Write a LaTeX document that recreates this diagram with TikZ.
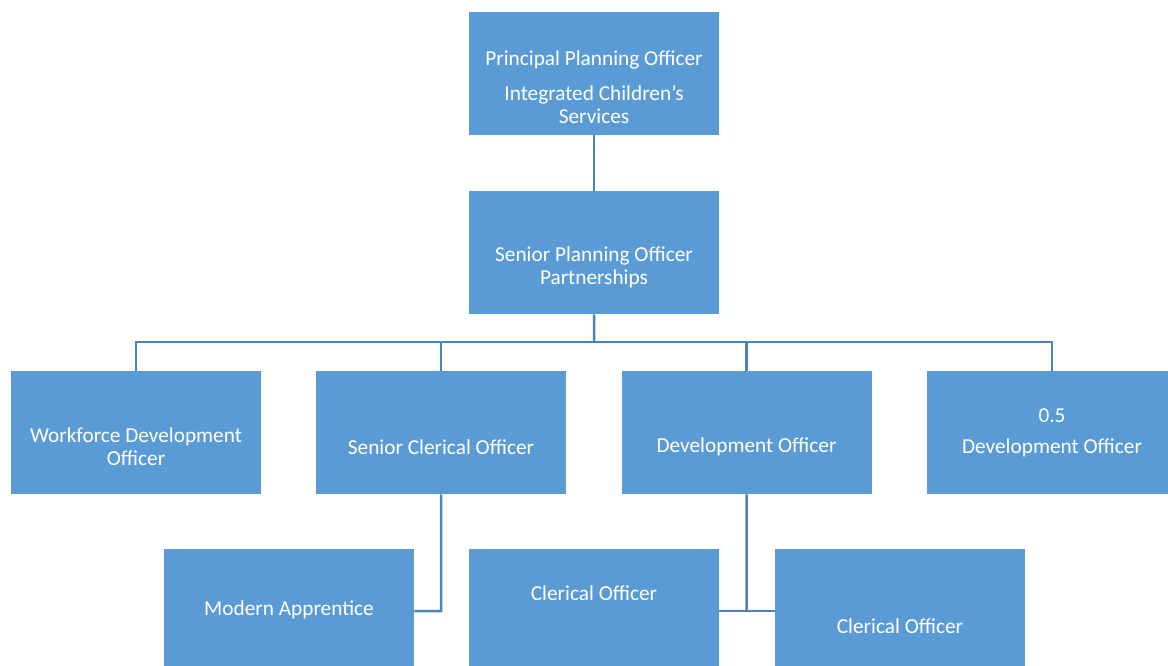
\documentclass[tikz,border=0pt]{standalone}
\usepackage{fontspec}
\setmainfont{Carlito}
\definecolor{boxblue}{HTML}{5B9BD5}
\definecolor{lineblue}{HTML}{4A83BD}
\begin{document}
\begin{tikzpicture}[x=1pt,y=-1pt,
  box/.style={fill=boxblue,draw=none,minimum width=250pt,minimum height=123pt,inner sep=0pt,anchor=north west},
  txt/.style={text=white,font=\fontsize{21.3}{23}\selectfont,align=center,inner sep=0pt},
  conn/.style={draw=lineblue,line width=2.5pt}]
\useasboundingbox (0,0) rectangle (1168,666);
\clip (0,0) rectangle (1168,666);
% boxes
\node[box] (top) at (469,12) {};
\node[box] (spo) at (469,191) {};
\node[box] (wdo) at (11,371) {};
\node[box] (sco) at (316,371) {};
\node[box] (dev) at (621.5,371) {};
\node[box] (half) at (927,371) {};
\node[box] (ma) at (164,549) {};
\node[box] (co1) at (469,549) {};
\node[box] (co2) at (775,549) {};
% texts
\node[txt] (ttop1) at (594,60) {Principal Planning Officer};
\node[txt] (ttop2) at (594,104.5) {Integrated Children’s\\Services};
\node[txt] (tspo) at (594,267.5) {Senior Planning Officer\\Partnerships};
\node[txt] (twdo) at (136,446.5) {Workforce Development\\Officer};
\node[txt] (tsco) at (441,447) {Senior Clerical Officer};
\node[txt] (tdev) at (746.5,447) {Development Officer};
\node[txt] (thalf1) at (1052,416) {0.5};
\node[txt] (thalf2) at (1052,448) {Development Officer};
\node[txt] (tma) at (289,610) {Modern Apprentice};
\node[txt] (tco1) at (594,593) {Clerical Officer};
\node[txt] (tco2) at (900,626) {Clerical Officer};
% connectors
\coordinate (bus) at (594,342);
\draw[conn] (top.south) -- (spo.north);
\draw[conn] (spo.south) -- (bus);
\draw[conn] (wdo.north) |- (bus) -| (half.north);
\draw[conn] (sco.north) -- (sco.north |- bus);
\draw[conn] (dev.north) -- (dev.north |- bus);
\coordinate (j1) at (441,611);
\draw[conn] (sco.south) -- (j1) -- (ma.east |- j1);
\coordinate (j2) at (746.5,611);
\draw[conn] (dev.south) -- (j2);
\draw[conn] (co1.east |- j2) -- (co2.west |- j2);
\end{tikzpicture}
\end{document}
